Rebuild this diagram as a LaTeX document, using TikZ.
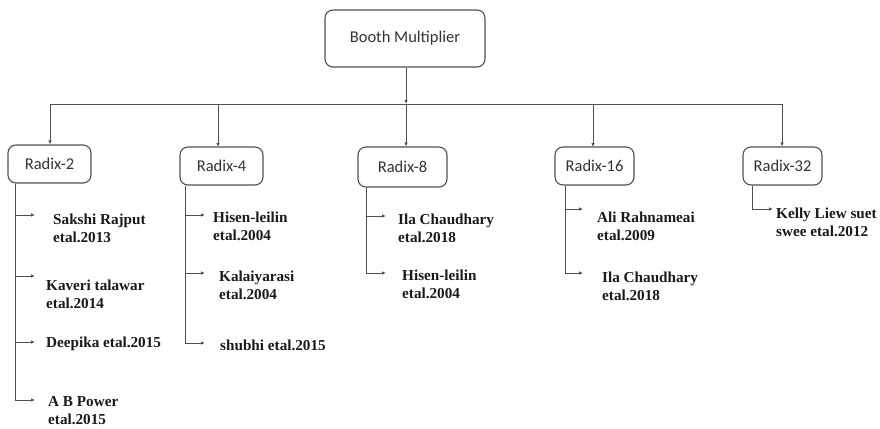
\documentclass[tikz,border=0pt]{standalone}
\usepackage{fontspec}
\setmainfont{Liberation Serif}
\newfontfamily\boxfont{Carlito}
\usetikzlibrary{arrows.meta}
\definecolor{linegray}{HTML}{505050}
\definecolor{boxtext}{HTML}{333333}
\definecolor{reftext}{HTML}{1A1A1A}
\begin{document}
\begin{tikzpicture}[x=1pt,y=-1pt,
  box/.style={draw=linegray,line width=1.1pt,rounded corners=8pt,fill=white,
    font=\boxfont\fontsize{16.5}{18}\selectfont,text=boxtext,inner sep=0pt},
  ref/.style={anchor=west,inner sep=0pt,align=left,text=reftext,
    font=\fontsize{15.2}{18}\selectfont\bfseries},
  wire/.style={draw=linegray,line width=0.9pt},
  arr/.style={wire,-{Latex[length=4pt,width=3.5pt]}}]
\useasboundingbox (0,0) rectangle (880,428);

% top level and radix boxes
\node[box,minimum width=160pt,minimum height=57pt] (root) at (405,38.5) {Booth Multiplier};
\node[box,minimum width=83pt,minimum height=38pt] (r2)  at (49.5,164) {Radix-2};
\node[box,minimum width=83pt,minimum height=38pt] (r4)  at (221.5,166) {Radix-4};
\node[box,minimum width=89pt,minimum height=40pt] (r8)  at (402.5,167) {Radix-8};
\node[box,minimum width=79pt,minimum height=38pt] (r16) at (594.5,166) {Radix-16};
\node[box,minimum width=79pt,minimum height=38pt] (r32) at (782.5,166) {Radix-32};

% distribution bus
\coordinate (bus) at (406,104);
\coordinate (busL) at (50,104);
\coordinate (busR) at (782,104);
\draw[arr] (root.south -| bus) -- (bus);
\draw[wire] (busL) -- (busR);
\draw[arr] (busL) -- (busL |- r2.north);
\draw[arr] (218,104) -- (218,147);
\draw[arr] (bus) -- (bus |- r8.north);
\draw[arr] (593,104) -- (593,147);
\draw[arr] (busR) -- (busR |- r32.north);

% Radix-2 references
\node[ref] (a1) at (53,228) {Sakshi Rajput\\etal.2013};
\node[ref] (a2) at (46,294) {Kaveri talawar\\etal.2014};
\node[ref] (a3) at (46,344) {Deepika etal.2015};
\node[ref] (a4) at (48,411) {A B Power\\etal.2015};
\coordinate (ta1) at (35,215);
\coordinate (ta2) at (35,276);
\coordinate (ta3) at (35,342);
\coordinate (ta4) at (35,400);
\foreach \t in {ta1,ta2,ta3,ta4}
  \draw[arr] (r2.south -| 15,0) |- (\t);

% Radix-4 references
\node[ref] (b1) at (213,226.5) {Hisen-leilin\\etal.2004};
\node[ref] (b2) at (219,285) {Kalaiyarasi\\etal.2004};
\node[ref] (b3) at (220,345) {shubhi etal.2015};
\coordinate (tb1) at (205,215);
\coordinate (tb2) at (205,273);
\coordinate (tb3) at (205,343);
\foreach \t in {tb1,tb2,tb3}
  \draw[arr] (r4.south -| 185,0) |- (\t);

% Radix-8 references
\node[ref] (c1) at (398,228) {Ila Chaudhary\\etal.2018};
\node[ref] (c2) at (402,284) {Hisen-leilin\\etal.2004};
\coordinate (tc1) at (386,216);
\coordinate (tc2) at (386,273);
\foreach \t in {tc1,tc2}
  \draw[arr] (r8.south -| 366,0) |- (\t);

% Radix-16 references
\node[ref] (d1) at (597,226) {Ali Rahnameai\\etal.2009};
\node[ref] (d2) at (602,286) {Ila Chaudhary\\etal.2018};
\coordinate (td1) at (583,209);
\coordinate (td2) at (583,273);
\foreach \t in {td1,td2}
  \draw[arr] (r16.south -| 565,0) |- (\t);

% Radix-32 reference
\node[ref] (e1) at (776,222.5) {Kelly Liew suet\\swee etal.2012};
\coordinate (te1) at (773,209);
\draw[arr] (r32.south -| 752,0) |- (te1);
\end{tikzpicture}
\end{document}
